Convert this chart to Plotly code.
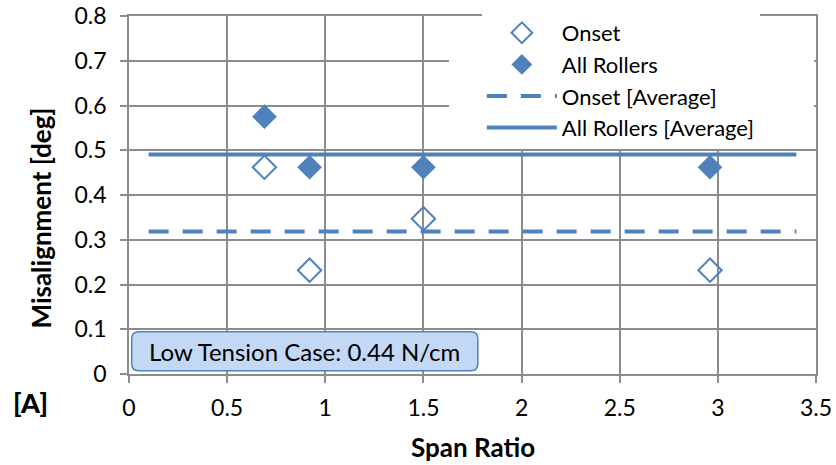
import plotly.graph_objects as go

span_ratio = [0.69, 0.92, 1.5, 2.96]
onset = [0.462, 0.232, 0.347, 0.232]
all_rollers = [0.575, 0.462, 0.462, 0.462]
avg_x = [0.1, 3.4]
onset_avg = sum(onset) / len(onset)
all_avg = sum(all_rollers) / len(all_rollers)

BLUE = "#4F81BD"
GRID = "#8C8C8C"
FONT = "Lato"

# plot area in pixels (for converting layout positions)
L, R, T, B = 129.3, 816.0, 16.0, 374.3
PW, PH = R - L, B - T


def px_x(p):
    return (p - L) / PW


def px_y(p):
    return (B - p) / PH


fig = go.Figure()
fig.add_trace(go.Scatter(x=span_ratio, y=onset, mode="markers", name="Onset",
                         marker=dict(symbol="diamond-open", size=18, color=BLUE, line=dict(width=2, color=BLUE))))
fig.add_trace(go.Scatter(x=span_ratio, y=all_rollers, mode="markers", name="All Rollers",
                         marker=dict(symbol="diamond", size=19, color=BLUE)))
fig.add_trace(go.Scatter(x=avg_x, y=[onset_avg] * 2, mode="lines", name="Onset [Average]",
                         line=dict(color=BLUE, width=4, dash="20px,14px")))
fig.add_trace(go.Scatter(x=avg_x, y=[all_avg] * 2, mode="lines", name="All Rollers [Average]",
                         line=dict(color=BLUE, width=4)))

fig.update_layout(
    width=836, height=465,
    margin=dict(l=129, r=20, t=16, b=91, autoexpand=False),
    plot_bgcolor="white", paper_bgcolor="white",
    font=dict(family=FONT, size=23, color="black"),
    showlegend=True,
    legend=dict(x=px_x(482), y=px_y(12), xanchor="left", yanchor="top", bgcolor="white",
                font=dict(size=22), tracegroupgap=0, itemwidth=70),
    xaxis=dict(range=[0, 3.5], dtick=0.5, tick0=0, showgrid=True, gridcolor=GRID, gridwidth=1.5,
               showline=True, linecolor=GRID, linewidth=1.5, mirror=True,
               ticks="outside", ticklen=7, tickcolor=GRID, tickwidth=1.5,
               zeroline=False, tickfont=dict(size=23), ticklabelstandoff=6),
    yaxis=dict(range=[0, 0.8], dtick=0.1, tick0=0, showgrid=True, gridcolor=GRID, gridwidth=1.5,
               showline=True, linecolor=GRID, linewidth=1.5, mirror=True,
               ticks="outside", ticklen=7, tickcolor=GRID, tickwidth=1.5,
               zeroline=False, tickfont=dict(size=23), ticklabelstandoff=9),
)

# white legend background covering the grid
fig.add_shape(type="rect", xref="x", yref="y", x0=1.63, x1=3.49, y0=0.535, y1=0.797,
              fillcolor="white", line=dict(width=0), layer="above")

# rounded info box
x0, x1, y0, y1 = px_x(132), px_x(478), px_y(371), px_y(332)
rx, ry = 7 / PW, 7 / PH
path = (f"M{x0+rx},{y0} L{x1-rx},{y0} Q{x1},{y0} {x1},{y0+ry} L{x1},{y1-ry} Q{x1},{y1} {x1-rx},{y1} "
        f"L{x0+rx},{y1} Q{x0},{y1} {x0},{y1-ry} L{x0},{y0+ry} Q{x0},{y0} {x0+rx},{y0} Z")
fig.add_shape(type="path", xref="paper", yref="paper", path=path, fillcolor="#C3D8F5",
              line=dict(color=BLUE, width=1.5), layer="above")
fig.add_annotation(xref="paper", yref="paper", x=(x0 + x1) / 2, y=(y0 + y1) / 2, xanchor="center", yanchor="middle",
                   text="Low Tension Case: 0.44 N/cm", showarrow=False, font=dict(size=24, color="black"))

# axis titles
fig.add_annotation(xref="paper", yref="paper", x=0.5, y=px_y(447), xanchor="center", yanchor="middle",
                   text="<b>Span Ratio</b>", showarrow=False, font=dict(size=26, color="black"))
fig.add_annotation(xref="paper", yref="paper", x=px_x(41), y=px_y(218), xanchor="center", yanchor="middle",
                   text="<b>Misalignment [deg]</b>", textangle=-90, showarrow=False, font=dict(size=26, color="black"))
fig.add_annotation(xref="paper", yref="paper", x=px_x(31), y=px_y(403), xanchor="center", yanchor="middle",
                   text="<b>[A]</b>", showarrow=False, font=dict(size=27, color="black", family="Lato Black, Lato"))

fig.write_html("out.html")
